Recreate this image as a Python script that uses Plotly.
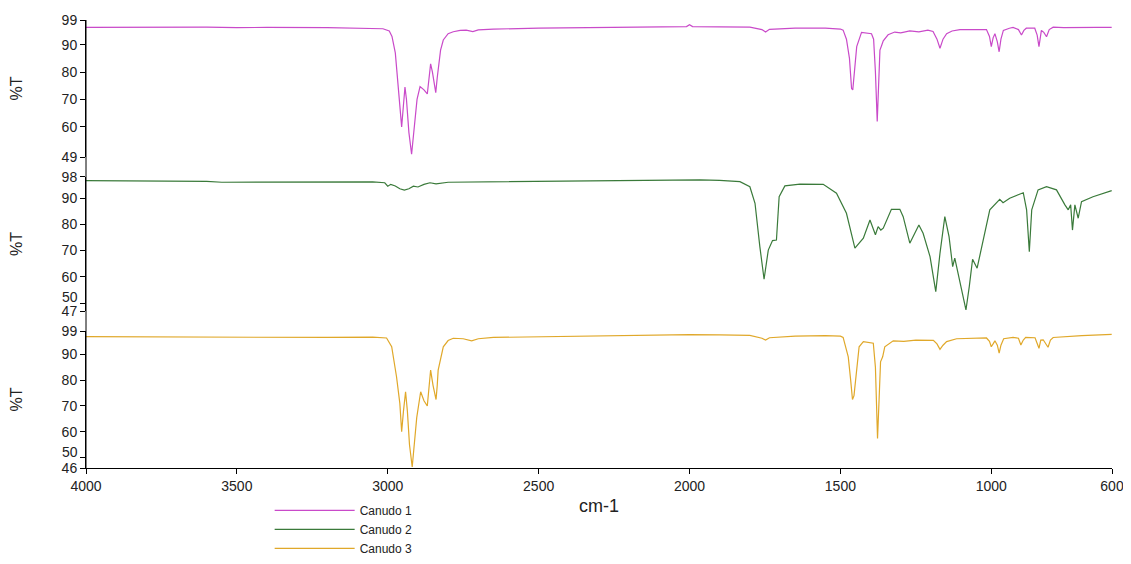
import plotly.graph_objects as go

# ---------------- data ----------------
names = ["Canudo 1", "Canudo 2", "Canudo 3"]
colors = ["#c94ac9", "#3a7a3a", "#e0a82a"]

wn1 = [4000, 3800, 3700, 3600, 3500, 3400, 3200, 3050, 3016, 2995, 2986, 2975, 2966, 2958, 2954, 2948,
       2943, 2938, 2930, 2921, 2912, 2903, 2893, 2880, 2869, 2862, 2858, 2852, 2845, 2841, 2836, 2833,
       2825, 2816, 2800, 2783, 2760, 2740, 2718, 2700, 2650, 2500, 2300, 2100, 2010, 2000, 1990, 1900,
       1800, 1760, 1748, 1735, 1650, 1550, 1500, 1491, 1480, 1470, 1466, 1463, 1459, 1455, 1446, 1430,
       1410, 1397, 1390, 1384, 1378, 1374, 1369, 1364, 1358, 1342, 1320, 1300, 1270, 1240, 1210, 1193,
       1180, 1170, 1160, 1148, 1130, 1104, 1050, 1016, 1006, 1000, 994, 988, 980, 974, 968, 960, 940,
       928, 910, 900, 892, 884, 856, 848, 842, 838, 834, 826, 817, 808, 795, 760, 700, 650, 601]
t1 = [96.3, 96.4, 96.2, 96.4, 96.2, 96.3, 96.2, 96.0, 95.8, 95.0, 93.0, 87.0, 75.0, 64.0, 60.0, 68.0,
      74.5, 70.0, 58.0, 50.0, 60.0, 70.0, 74.7, 73.5, 72.0, 78.0, 83.0, 80.0, 74.0, 72.5, 78.0, 81.0,
      88.0, 91.7, 94.0, 94.7, 95.2, 95.3, 94.8, 95.4, 95.7, 96.0, 96.3, 96.5, 96.6, 97.3, 96.6, 96.5,
      96.4, 95.5, 94.6, 95.6, 96.0, 96.0, 95.7, 95.3, 92.0, 85.0, 80.0, 74.0, 73.5, 78.0, 89.3, 94.5,
      94.3, 94.0, 92.0, 80.0, 62.0, 75.0, 88.0, 89.5, 91.4, 93.6, 94.6, 94.3, 95.0, 94.7, 95.3, 94.8,
      92.0, 88.7, 92.0, 94.0, 95.0, 95.5, 95.6, 95.5, 93.0, 89.3, 92.5, 94.0, 91.0, 87.4, 92.0, 95.2, 96.0,
      96.3, 95.5, 93.5, 95.2, 96.0, 96.0, 93.5, 89.3, 93.0, 95.2, 94.5, 92.9, 95.5, 96.4, 96.2, 96.4, 96.3, 96.3]

wn2 = [4000, 3800, 3600, 3550, 3400, 3200, 3050, 3010, 3000, 2990, 2975, 2960, 2945, 2930, 2915, 2900,
       2880, 2860, 2840, 2800, 2600, 2400, 2200, 2050, 2000, 1966, 1900, 1833, 1800, 1783, 1767, 1753,
       1739, 1725, 1712, 1703, 1684, 1634, 1557, 1513, 1480, 1452, 1424, 1402, 1384, 1375, 1366, 1358,
       1331, 1303, 1292, 1270, 1240, 1226, 1203, 1184, 1170, 1154, 1140, 1128, 1121, 1115, 1084, 1073,
       1062, 1047, 1027, 1005, 972, 961, 939, 894, 883, 874, 866, 845, 817, 784, 756, 745, 737, 731,
       723, 712, 701, 663, 601]
t2 = [96.6, 96.5, 96.3, 96.0, 96.1, 96.1, 96.1, 95.8, 94.5, 95.2, 94.6, 93.5, 93.0, 93.5, 94.5, 94.2,
      95.2, 95.8, 95.4, 96.0, 96.2, 96.4, 96.7, 96.9, 97.0, 96.9, 96.7, 96.2, 94.3, 88.0, 71.5, 59.1,
      70.2, 73.8, 74.0, 90.5, 94.6, 95.3, 95.2, 91.8, 84.2, 70.9, 74.7, 81.6, 76.0, 79.1, 77.8, 78.5,
      85.7, 85.7, 82.9, 72.8, 79.7, 76.6, 67.7, 54.4, 69.0, 82.9, 75.3, 63.9, 67.1, 63.9, 47.4, 56.3,
      66.7, 63.3, 73.4, 85.5, 89.5, 88.2, 89.9, 92.0, 85.5, 69.6, 85.5, 93.1, 94.3, 93.1, 87.4, 85.5, 87.4, 77.8,
      87.4, 82.3, 88.6, 90.5, 92.8]

wn3 = [4000, 3800, 3600, 3400, 3200, 3050, 3004, 2987, 2971, 2960, 2954, 2948, 2941, 2935, 2928, 2919,
       2912, 2904, 2891, 2880, 2869, 2863, 2858, 2850, 2840, 2836, 2833, 2816, 2800, 2783, 2750, 2722,
       2700, 2650, 2500, 2300, 2100, 2000, 1900, 1800, 1760, 1748, 1735, 1650, 1550, 1500, 1491, 1474,
       1466, 1460, 1455, 1449, 1438, 1424, 1391, 1384, 1377, 1372, 1367, 1360, 1353, 1325, 1290, 1250,
       1192, 1180, 1170, 1160, 1148, 1115, 1016, 1006, 1000, 994, 988, 980, 974, 968, 959, 928, 910,
       902, 894, 886, 855, 842, 836, 828, 812, 804, 795, 700, 601]
t3 = [96.8, 96.7, 96.5, 96.6, 96.5, 96.6, 96.3, 92.9, 81.3, 71.0, 60.0, 68.0, 75.5, 68.0, 55.0, 46.4,
      55.0, 65.5, 75.5, 72.0, 70.0, 78.0, 83.9, 78.0, 72.5, 78.0, 83.9, 92.9, 95.3, 96.2, 96.0, 95.2,
      96.0, 96.5, 96.8, 97.2, 97.5, 97.6, 97.5, 97.3, 96.2, 95.5, 96.4, 97.0, 97.2, 97.0, 96.5, 89.0,
      80.0, 72.5, 74.0, 81.3, 92.9, 94.9, 94.3, 85.0, 57.4, 72.0, 87.1, 89.0, 92.9, 95.2, 95.0, 95.5,
      95.4, 94.0, 91.9, 93.5, 94.9, 96.0, 96.3, 95.0, 92.9, 94.0, 95.2, 93.5, 90.4, 93.5, 96.0, 96.5, 96.2,
      93.6, 95.5, 96.5, 96.4, 92.3, 95.5, 95.6, 92.7, 95.5, 96.5, 97.2, 97.7]

y_ranges = [[49, 99], [47, 98], [46, 99]]
y_ticks = [[49, 60, 70, 80, 90, 99], [47, 50, 60, 70, 80, 90, 98], [46, 50, 60, 70, 80, 90, 99]]
raised_tick = 50   # label drawn slightly above its tick (as in the reference) in panels 2 and 3
x_ticks = [4000, 3500, 3000, 2500, 2000, 1500, 1000, 600]

# ---------------- figure ----------------
font_family = "Liberation Sans, Arial, sans-serif"
fig = go.Figure()
series = [(wn1, t1), (wn2, t2), (wn3, t3)]
yaxes_ids = ["y", "y2", "y3"]
for (wn, t), nm, col, yid in zip(series, names, colors, yaxes_ids):
    fig.add_trace(go.Scatter(x=wn, y=t, mode="lines", name=nm, yaxis=yid,
                             line=dict(color=col, width=1.2)))

domains = [[0.6942, 1.0], [0.3504, 0.6496], [0.0, 0.3058]]
layout = dict(
    width=1115, height=548,
    margin=dict(l=78, r=11, t=12, b=88, autoexpand=False),
    paper_bgcolor="white", plot_bgcolor="white",
    font=dict(family=font_family, size=14, color="#222"),
    xaxis=dict(range=[4000, 600], tickvals=x_ticks, ticktext=[str(v) for v in x_ticks],
               anchor="y3", showline=True, linecolor="black", linewidth=1, automargin=False,
               ticklabeloverflow="allow",
               ticks="outside", ticklen=5, tickcolor="black", showgrid=False, zeroline=False,
               title=dict(text="cm-1", font=dict(size=18), standoff=6)),
    showlegend=True,
    legend=dict(x=0.179, y=-0.062, xanchor="left", yanchor="top", orientation="v",
                font=dict(size=12, color="#222"), itemwidth=80, tracegroupgap=0,
                bgcolor="rgba(0,0,0,0)"),
)
annotations = []
for i, key in enumerate(["yaxis", "yaxis2", "yaxis3"]):
    ticktext = [("" if (i > 0 and v == raised_tick) else str(v)) for v in y_ticks[i]]
    layout[key] = dict(domain=domains[i], range=y_ranges[i], tickvals=y_ticks[i],
                       ticktext=ticktext, anchor="x", automargin=False,
                       showline=True, linecolor="black", linewidth=1,
                       ticks="outside", ticklen=5, tickcolor="black",
                       showgrid=False, zeroline=False,
                       title=dict(text="%T", font=dict(size=16), standoff=36))
    if i > 0:
        annotations.append(dict(text=str(raised_tick), x=0, xref="paper", y=raised_tick,
                                yref=yaxes_ids[i], xanchor="right", yanchor="middle",
                                xshift=-6, yshift=6, showarrow=False,
                                font=dict(size=14, color="#222")))
layout["annotations"] = annotations
fig.update_layout(**layout)
fig.add_shape(type="line", xref="paper", yref="paper", x0=0, x1=0, y0=0, y1=1,
              line=dict(color="black", width=1))

fig.write_html("out.html")
